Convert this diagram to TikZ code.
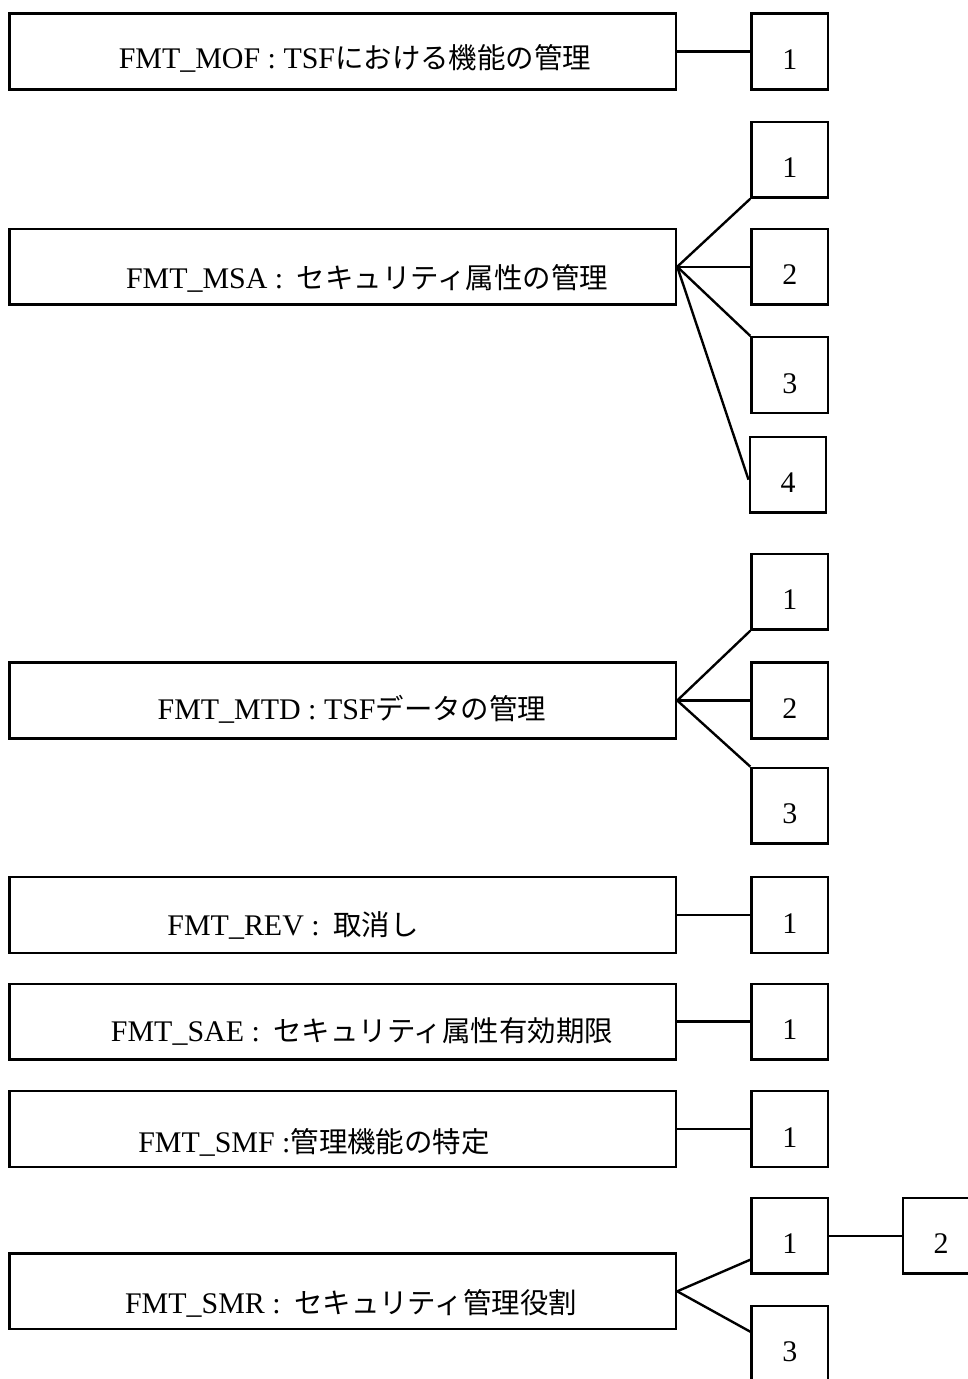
\documentclass[tikz,border=0pt]{standalone}
\usepackage{fontspec}
\setmainfont{Liberation Serif}
\newfontfamily\jp[Scale=0.95]{Noto Sans CJK JP}
\usetikzlibrary{calc}
\tikzset{
  famb/.style={draw,line width=1.8pt,minimum width=166.6mm,minimum height=18.9mm,inner sep=0pt},
  compb/.style={draw,line width=1.8pt,minimum width=19.1mm,minimum height=18.9mm,inner sep=0pt,
    text height=9mm,text depth=0pt,font=\fontsize{21.3}{25}\selectfont},
  famlab/.style={anchor=base,inner sep=0pt,font=\fontsize{21.3}{25}\selectfont},
  link/.style={line width=1.7pt}
}

\begin{document}
\begin{tikzpicture}[x=.25mm,y=-.25mm]
    \useasboundingbox (0,0) rectangle (967,1379);
    % FMT_MOF
    \node[famb] (mof) at (342.75,51.5) {};
    \node[famlab] (mofT) at (355,69) {FMT\_MOF : TSF{\jp における機能の管理}};
    \node[compb] (mof1) at (789.75,51.5) {1};
    \draw[link] (mof.east)--(mof1.west);
    % FMT_MSA
    \node[famb] (msa) at (342.75,266.75) {};
    \node[famlab] (msaT) at (367,288) {FMT\_MSA :\hspace{.45em}{\jp セキュリティ属性の管理}};
    \node[compb] (msa1) at (789.75,159.7) {1};
    \node[compb] (msa2) at (789.75,266.75) {2};
    \node[compb] (msa3) at (789.75,375) {3};
    \node[compb] (msa4) at (788,474.7) {4};
    \draw[link] (msa.east)--(msa1.south west);
    \draw[link] (msa.east)--(msa2.west);
    \draw[link] (msa.east)--(msa3.north west);
    \draw[link] (msa.east)--($(msa4.west)+(0,5)$);
    % FMT_MTD
    \node[famb] (mtd) at (342.75,700.5) {};
    \node[famlab] (mtdT) at (352,719) {FMT\_MTD : TSF{\jp データの管理}};
    \node[compb] (mtd1) at (789.75,591.7) {1};
    \node[compb] (mtd2) at (789.75,700.5) {2};
    \node[compb] (mtd3) at (789.75,805.7) {3};
    \draw[link] (mtd.east)--(mtd1.south west);
    \draw[link] (mtd.east)--(mtd2.west);
    \draw[link] (mtd.east)--(mtd3.north west);
    % FMT_REV
    \node[famb] (rev) at (342.75,915) {};
    \node[famlab] (revT) at (293,935) {FMT\_REV :\hspace{.45em}{\jp 取消し}};
    \node[compb] (rev1) at (789.75,915) {1};
    \draw[link] (rev.east)--(rev1.west);
    % FMT_SAE
    \node[famb] (sae) at (342.75,1021.6) {};
    \node[famlab] (saeT) at (362,1041) {FMT\_SAE :\hspace{.45em}{\jp セキュリティ属性有効期限}};
    \node[compb] (sae1) at (789.75,1021.6) {1};
    \draw[link] (sae.east)--(sae1.west);
    % FMT_SMF
    \node[famb] (smf) at (342.75,1129) {};
    \node[famlab] (smfT) at (314,1152) {FMT\_SMF :{\jp 管理機能の特定}};
    \node[compb] (smf1) at (789.75,1129) {1};
    \draw[link] (smf.east)--(smf1.west);
    % FMT_SMR
    \node[famb] (smr) at (342.75,1291.3) {};
    \node[famlab] (smrT) at (351,1313) {FMT\_SMR :\hspace{.45em}{\jp セキュリティ管理役割}};
    \node[compb] (smr1) at (789.75,1235.7) {1};
    \node[compb] (smr2) at (941,1235.7) {2};
    \node[compb] (smr3) at (789.75,1343.7) {3};
    \draw[link] (smr.east)--($(smr1.west)+(0,24)$);
    \draw[link] (smr.east)--($(smr3.west)+(0,-12)$);
    \draw[link] (smr1.east)--(smr2.west);
\end{tikzpicture}
\end{document}
